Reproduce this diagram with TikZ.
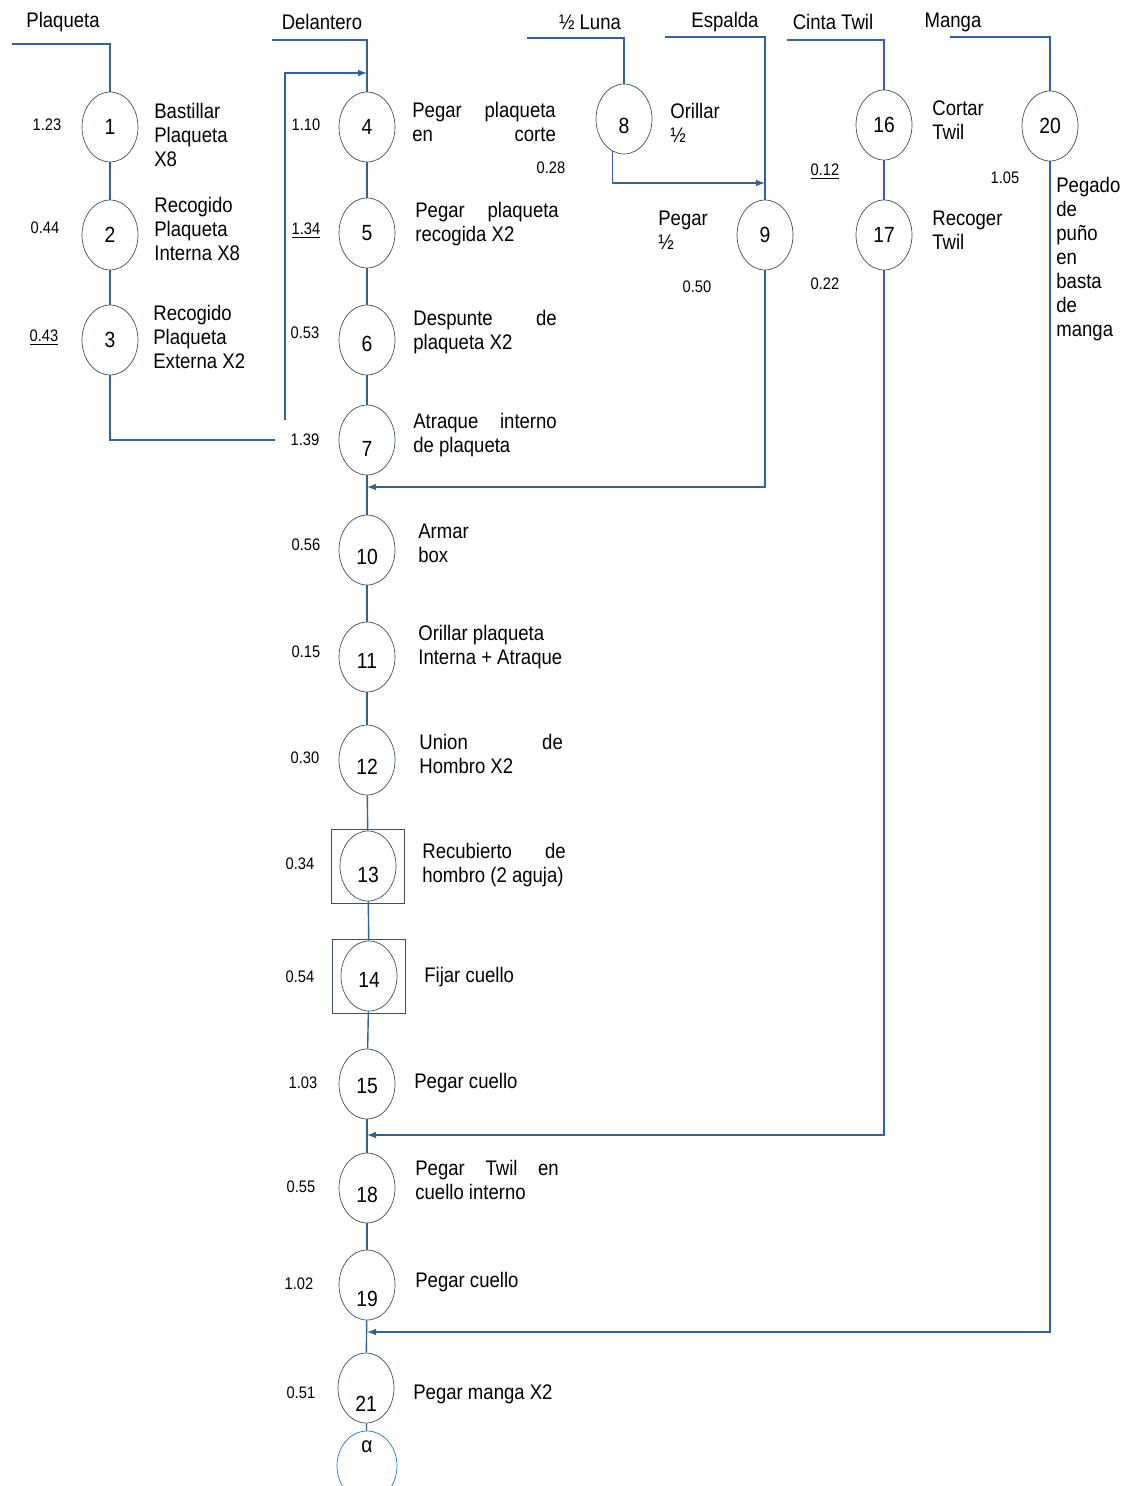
\documentclass[tikz,border=0pt]{standalone}
\usepackage{fontspec}
\setmainfont{Liberation Sans}[FakeStretch=0.88]
\usepackage{xcolor}
\usetikzlibrary{arrows}
\usetikzlibrary{shapes.geometric, fit}
\definecolor{flowblue}{RGB}{52, 98, 148}
\definecolor{opgray}{RGB}{64, 78, 98}
\definecolor{alphablue}{RGB}{40, 120, 210}
\newcommand{\shiftno}[2]{\raisebox{#1}[\height][\depth]{#2}}
\newcommand{\jline}[1]{\makebox[2.87cm][s]{#1}}

\begin{document}
\begin{tikzpicture}[x=0.02cm, y=-0.02cm,
 op/.style={ellipse, draw=opgray, minimum width=1.12cm, minimum height=1.4cm, inner sep=0pt, font=\fontsize{12.5}{14}\selectfont},
 desc/.style={anchor=west, align=left, inner sep=0pt, font=\fontsize{12}{13.7}\selectfont},
 tm/.style={inner sep=1pt, font=\fontsize{9.5}{10}\selectfont},
 hd/.style={font=\fontsize{12}{14}\selectfont},
 ln/.style={draw=flowblue, line width=0.8pt},
 boxop/.style={draw=opgray, inner xsep=0.16cm, inner ysep=0.03cm}
]
\useasboundingbox (0,0) rectangle (1131,1486);

 %headers
 \node[hd] (hPla) at (63,22) {Plaqueta};
 \node[hd] (hDel) at (322,22) {Delantero};
 \node[hd] (hLun) at (590,22) {½ Luna};
 \node[hd] (hEsp) at (725,22) {Espalda};
 \node[hd] (hCin) at (833,22) {Cinta Twil};
 \node[hd] (hMan) at (953,22) {Manga};

 \coordinate (sPla) at (12,44);
 \coordinate (sDel) at (272,40);
 \coordinate (sLun) at (527,38);
 \coordinate (sEsp) at (665,37);
 \coordinate (sCin) at (787,40);
 \coordinate (sMan) at (950,37);

 %plaqueta
 \node[op] (n1) at (110,127) {1};
 \node[op] (n2) at (110,235) {2};
 \node[op] (n3) at (110,340) {3};

 %delantero
 \node[op] (n4) at (367,127) {4};
 \node[op] (n5) at (367,233) {5};
 \node[op] (n6) at (367,340) {\shiftno{-2pt}{6}};
 \node[op] (n7) at (367,440) {\shiftno{-5pt}{7}};
 \node[op] (n10) at (367,550) {\shiftno{-4pt}{10}};
 \node[op] (n11) at (367,657) {\shiftno{-2pt}{11}};
 \node[op] (n12) at (367,760) {\shiftno{-4pt}{12}};
 \node[op] (n13) at (368,866) {\shiftno{-5pt}{13}};
 \node[op] (n14) at (369,976) {\shiftno{-2pt}{14}};
 \node[op] (n15) at (367,1084) {\shiftno{-1pt}{15}};
 \node[op] (n18) at (367,1188) {\shiftno{-4pt}{18}};
 \node[op] (n19) at (367,1285) {\shiftno{-8pt}{19}};
 \node[op] (n21) at (366,1388) {\shiftno{-9pt}{21}};
 \node[op, draw=alphablue, minimum width=1.2cm] (na) at (367,1466) {\shiftno{11pt}{α}};
 \node[fit=(n13), boxop] (b13) {};
 \node[fit=(n14), boxop] (b14) {};

 %luna, espalda, twil, manga
 \node[op] (n8) at (624,119) {\shiftno{-4pt}{8}};
 \node[op] (n9) at (765,235) {9};
 \node[op] (n16) at (884,125) {16};
 \node[op] (n17) at (884,235) {17};
 \node[op] (n20) at (1050,126) {20};

 %descriptions
 \node[desc] (d1) at (154,135) {Bastillar\\Plaqueta\\X8};
 \node[desc] (d2) at (154,229) {Recogido\\Plaqueta\\Interna X8};
 \node[desc] (d3) at (153,337) {Recogido\\Plaqueta\\Externa X2};
 \node[desc] (d4) at (412,122) {\jline{Pegar plaqueta}\\\jline{en corte}};
 \node[desc] (d5) at (415,224) {\jline{Pegar plaqueta}\\recogida X2};
 \node[desc] (d6) at (413,332) {\jline{Despunte de}\\plaqueta X2};
 \node[desc] (d7) at (413,435) {\jline{Atraque interno}\\de plaqueta};
 \node[desc] (d8) at (670,123) {Orillar\\½};
 \node[desc] (d9) at (658,230) {Pegar\\½};
 \node[desc] (d16) at (932,120) {Cortar\\Twil};
 \node[desc] (d17) at (932,230) {Recoger\\Twil};
 \node[desc] (d20) at (1056,259) {Pegado\\de\\puño\\en\\basta\\de\\manga};
 \node[desc] (d10) at (418,543) {Armar\\box};
 \node[desc] (d11) at (418,647) {Orillar plaqueta\\Interna + Atraque};
 \node[desc] (d12) at (419,754) {\jline{Union de}\\Hombro X2};
 \node[desc] (d13) at (422,865) {\jline{Recubierto de}\\hombro (2 aguja)};
 \node[desc] (d14) at (424,977) {Fijar cuello};
 \node[desc] (d15) at (414,1083) {Pegar cuello};
 \node[desc] (d18) at (415,1180) {\jline{Pegar Twil en}\\cuello interno};
 \node[desc] (d19) at (415,1282) {Pegar cuello};
 \node[desc] (d21) at (413,1394) {Pegar manga X2};

 %times
 \node[tm] (t1) at (47,125) {1.23};
 \node[tm] (t2) at (45,228) {0.44};
 \node[tm] (t3) at (44,338) {\underline{0.43}};
 \node[tm] (t4) at (306,125) {1.10};
 \node[tm] (t5) at (306,231) {\underline{1.34}};
 \node[tm] (t6) at (305,333) {0.53};
 \node[tm] (t7) at (305,440) {1.39};
 \node[tm] (t8) at (551,168) {0.28};
 \node[tm] (t9) at (697,287) {0.50};
 \node[tm] (t16) at (825,172) {\underline{0.12}};
 \node[tm] (t17) at (825,284) {0.22};
 \node[tm] (t20) at (1005,178) {1.05};
 \node[tm] (t10) at (306,545) {0.56};
 \node[tm] (t11) at (306,652) {0.15};
 \node[tm] (t12) at (305,758) {0.30};
 \node[tm] (t13) at (300,864) {0.34};
 \node[tm] (t14) at (300,977) {0.54};
 \node[tm] (t15) at (303,1083) {1.03};
 \node[tm] (t18) at (301,1187) {0.55};
 \node[tm] (t19) at (299,1284) {1.02};
 \node[tm] (t21) at (301,1393) {0.51};

 %inputs
 \draw[ln] (sPla) -| (n1);
 \draw[ln] (sDel) -| (n4);
 \draw[ln] (sLun) -| (n8);
 \draw[ln] (sEsp) -| (n9);
 \draw[ln] (sCin) -| (n16);
 \draw[ln] (sMan) -| (n20);

 %chains
 \foreach \a/\b in {1/2, 2/3, 4/5, 5/6, 6/7, 7/10, 10/11, 11/12, 12/13, 13/14, 14/15, 15/18, 18/19, 19/21, 21/a, 16/17}
  \draw[ln] (n\a) -- (n\b);

 %joins
 \coordinate (j3) at (275,440);
 \coordinate (j4a) at (285,420);
 \coordinate (j4b) at (367,73);
 \coordinate (j9) at (765,183);
 \coordinate (j7) at (367,487);
 \coordinate (j15) at (367,1135);
 \coordinate (j19) at (367,1332);
 \draw[ln] (n3) |- (j3);
 \draw[ln, -latex] (j4a) |- (j4b);
 \draw[ln, -latex] (n8.250) |- (j9);
 \draw[ln, -latex] (n9) |- (j7);
 \draw[ln, -latex] (n17) |- (j15);
 \draw[ln, -latex] (n20) |- (j19);

\end{tikzpicture}
\end{document}
